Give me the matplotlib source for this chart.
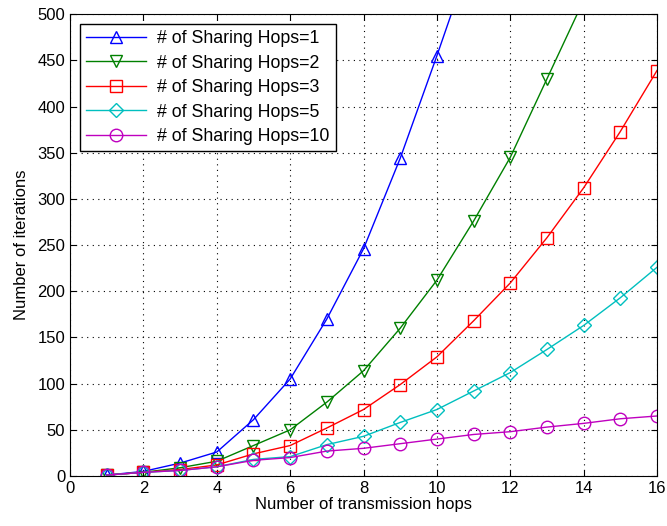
import matplotlib
matplotlib.use("Agg")
import matplotlib.pyplot as plt

plt.rcParams["font.family"] = ["Liberation Sans", "DejaVu Sans"]

hops = list(range(1, 17))

# iterations per number of sharing hops
iters_1 = [1, 5, 14, 26, 61, 105, 170, 246, 344, 455, 570]
iters_2 = [1, 4, 9, 16, 33, 50, 80, 114, 160, 212, 276, 345, 430, 515]
iters_3 = [1, 4, 7, 12, 24, 33, 52, 72, 99, 129, 168, 209, 258, 312, 373, 439]
iters_5 = [1, 4, 6, 10, 18, 21, 34, 43, 58, 72, 92, 112, 137, 163, 193, 226]
iters_10 = [1, 4, 6, 10, 17, 20, 27, 30, 35, 40, 45, 48, 53, 57, 62, 65]

series = [
    (iters_1, "b", "^", 9, "# of Sharing Hops=1"),
    (iters_2, (0, 0.5, 0), "v", 9, "# of Sharing Hops=2"),
    (iters_3, "r", "s", 8, "# of Sharing Hops=3"),
    (iters_5, (0, 0.75, 0.75), "D", 7, "# of Sharing Hops=5"),
    (iters_10, (0.75, 0, 0.75), "o", 9, "# of Sharing Hops=10"),
]

fig = plt.figure(figsize=(6.67, 5.26), dpi=100)
ax = fig.add_axes([0.105, 0.095, 0.88, 0.878])

for vals, col, mk, ms, lab in series:
    ax.plot(hops[:len(vals)], vals, color=col, marker=mk, markersize=ms,
            markerfacecolor="none", markeredgecolor=col, lw=1, label=lab)

ax.set_xlim(0, 16)
ax.set_ylim(0, 500)
ax.set_xticks(range(0, 17, 2))
ax.set_yticks(range(0, 501, 50))
ax.tick_params(direction="in", top=True, right=True, labelsize=12, length=4)
ax.grid(True, color="black", linestyle=(0, (1, 4)), lw=0.8)
ax.set_xlabel("Number of transmission hops", fontsize=12, labelpad=1)
ax.set_ylabel("Number of iterations", fontsize=12, labelpad=6)

leg = ax.legend(loc="upper left", fontsize=12.8, fancybox=False, framealpha=1,
                edgecolor="black", borderaxespad=0.55, handlelength=3.4,
                labelspacing=0.42, borderpad=0.35, handletextpad=0.6)
leg.get_frame().set_linewidth(1)

plt.savefig("out.png", dpi=100)
